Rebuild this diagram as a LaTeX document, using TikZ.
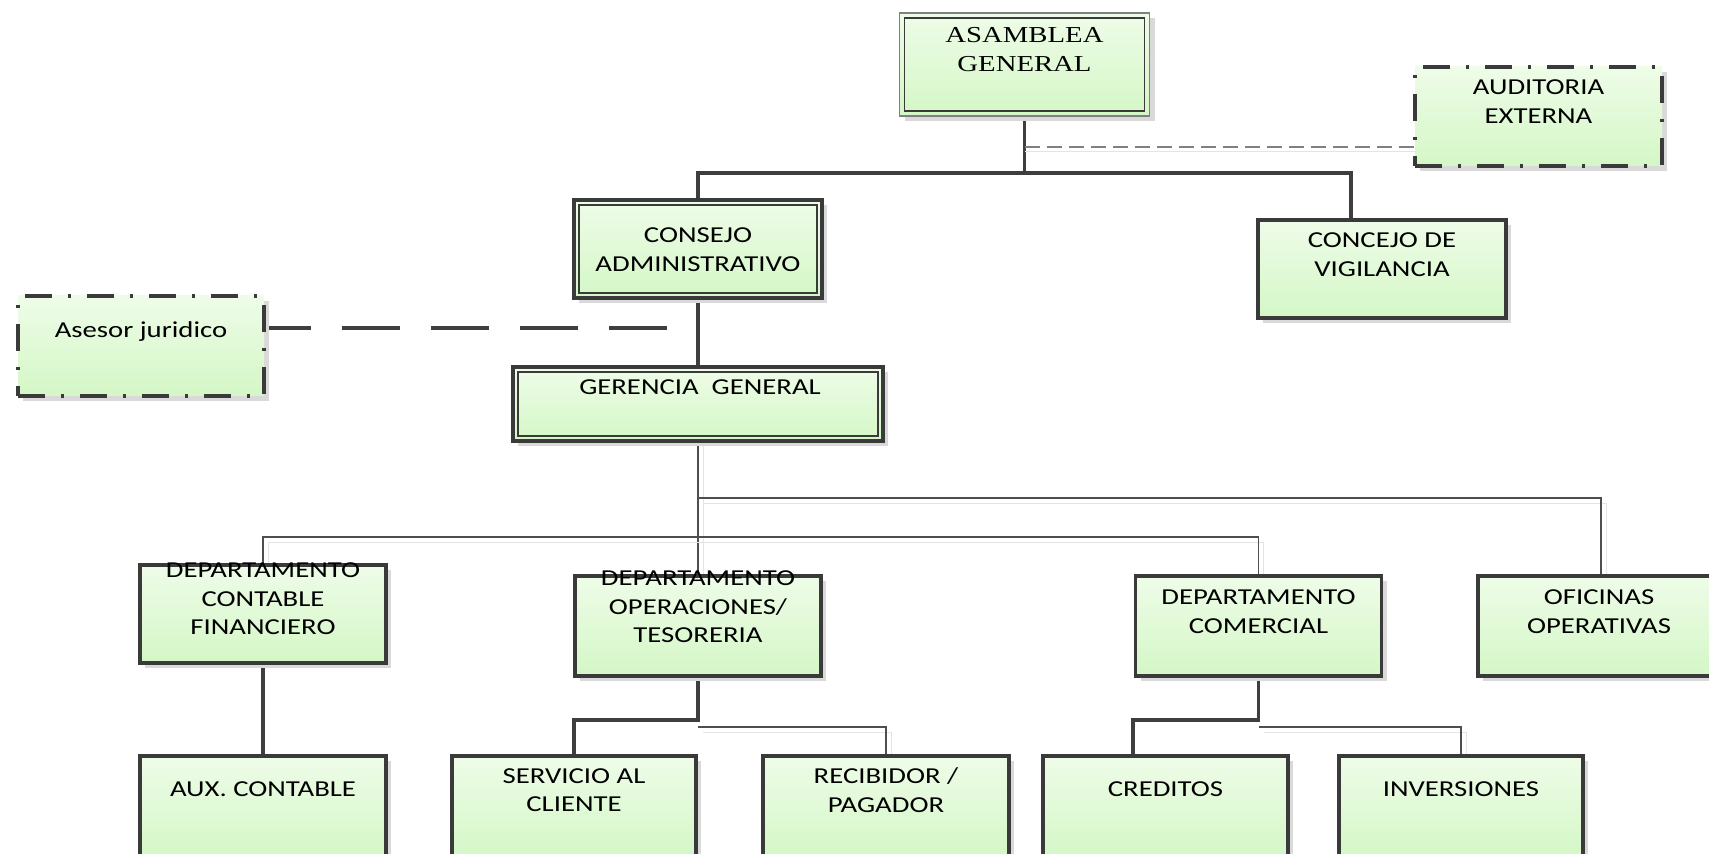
\documentclass[tikz,border=0pt]{standalone}
\usepackage{fontspec}
\setmainfont{Carlito}[FakeStretch=1.26]
\newfontfamily\timesfont{Liberation Serif}[FakeStretch=1.26]
\usetikzlibrary{shadows,backgrounds}

\definecolor{boxtop}{RGB}{238,252,232}
\definecolor{boxbot}{RGB}{212,247,198}
\definecolor{edge}{RGB}{58,58,58}
\definecolor{shadowc}{RGB}{217,217,217}
\definecolor{linkc}{RGB}{62,62,62}
\definecolor{thinc}{RGB}{78,78,78}
\definecolor{lshadow}{RGB}{228,228,228}
\definecolor{dashc}{RGB}{128,128,128}
\definecolor{paleedge}{RGB}{128,128,128}

\tikzset{
  orgbox/.style={rectangle, inner sep=0pt, outer sep=0pt,
    top color=boxtop, bottom color=boxbot, draw=edge, line width=1.8pt,
    drop shadow={shadow xshift=2.5pt, shadow yshift=-2.5pt, fill=shadowc, opacity=1}},
  dashdotbox/.style={orgbox, dash pattern=on 13.5pt off 8pt on 1.5pt off 8pt},
  paleframe/.style={orgbox, draw=paleedge, line width=0.6pt},
  innerthin/.style={draw=edge, line width=0.7pt},
  innerthick/.style={draw=edge, line width=1.2pt},
  lbl/.style={inner sep=0pt, outer sep=0pt, align=center, text=black,
    font=\fontsize{11.4}{14.25}\selectfont},
  seriflbl/.style={lbl, font=\timesfont\fontsize{11.4}{14.5}\selectfont},
  thicklink/.style={draw=linkc, line width=1.75pt},
  thinlink/.style={draw=thinc, line width=0.55pt,
    preaction={draw=lshadow, transform canvas={shift={(2.5pt,-2.5pt)}}}},
  auddash/.style={draw=dashc, line width=0.65pt, dash pattern=on 7.5pt off 3.5pt,
    preaction={draw=lshadow, transform canvas={shift={(0pt,-2pt)}}}},
  asesordash/.style={draw=linkc, line width=1.6pt, dash pattern=on 29pt off 15.5pt},
}

% inset frame drawn inside a box, 2.5pt from its border
\newcommand{\insetframe}[2]{%
  \draw[#2] ([shift={(2.5pt,-2.5pt)}]#1.north west) rectangle ([shift={(-2.5pt,2.5pt)}]#1.south east);}

\begin{document}
\begin{tikzpicture}[x=0.5pt,y=-0.5pt]
\useasboundingbox (0,0) rectangle (1709,854);

% ---- boxes ----
\node[paleframe, minimum width=125pt, minimum height=51.5pt] (asamblea) at (1024.5,64.5) {};
\insetframe{asamblea}{innerthin}
\node[dashdotbox, minimum width=123.5pt, minimum height=49.5pt] (auditoria) at (1538.5,116.5) {};

\node[orgbox, minimum width=124pt, minimum height=49pt] (consejo) at (698,249) {};
\insetframe{consejo}{innerthick}
\node[orgbox, minimum width=124pt, minimum height=49pt] (concejo) at (1382,269) {};

\node[dashdotbox, minimum width=123pt, minimum height=50pt] (asesor) at (141,346) {};

\node[orgbox, minimum width=185pt, minimum height=37pt] (gerencia) at (698,404) {};
\insetframe{gerencia}{innerthick}

\node[orgbox, minimum width=123pt, minimum height=49pt] (contable) at (263,614) {};
\node[orgbox, minimum width=123pt, minimum height=50pt] (oper) at (698,626) {};
\node[orgbox, minimum width=123pt, minimum height=50pt] (comercial) at (1258.5,626) {};
\node[orgbox, minimum width=123pt, minimum height=50pt] (oficinas) at (1601,626) {};

\node[orgbox, minimum width=123pt, minimum height=51pt] (aux) at (263,807) {};
\node[orgbox, minimum width=122pt, minimum height=51pt] (servicio) at (574,807) {};
\node[orgbox, minimum width=123pt, minimum height=51pt] (recibidor) at (886,807) {};
\node[orgbox, minimum width=122.5pt, minimum height=51pt] (creditos) at (1165.5,807) {};
\node[orgbox, minimum width=122pt, minimum height=51pt] (inversiones) at (1461,807) {};

% ---- labels ----
\node[seriflbl] (asamblea-t) at (1024.5,50) {ASAMBLEA\\GENERAL};
\node[lbl] (auditoria-t) at (1538.5,101.7) {AUDITORIA\\EXTERNA};
\node[lbl] (consejo-t) at (698,249.7) {CONSEJO\\ADMINISTRATIVO};
\node[lbl] (concejo-t) at (1382,254.6) {CONCEJO DE\\VIGILANCIA};
\node[lbl, anchor=base] (asesor-t) at (141,338) {Asesor juridico};
\node[lbl, anchor=base] (gerencia-t) at (700,395) {GERENCIA\ \ GENERAL};
\node[lbl] (contable-t) at (263,599) {DEPARTAMENTO\\CONTABLE\\FINANCIERO};
\node[lbl] (oper-t) at (698,607) {DEPARTAMENTO\\OPERACIONES/\\TESORERIA};
\node[lbl] (comercial-t) at (1258.5,611.7) {DEPARTAMENTO\\COMERCIAL};
\node[lbl] (oficinas-t) at (1599,611.7) {OFICINAS\\OPERATIVAS};
\node[lbl, anchor=base] (aux-t) at (263,797) {AUX. CONTABLE};
\node[lbl] (servicio-t) at (574,790) {SERVICIO AL\\CLIENTE};
\node[lbl] (recibidor-t) at (886,790) {RECIBIDOR /\\PAGADOR};
\node[lbl, anchor=base] (creditos-t) at (1165.5,797) {CREDITOS};
\node[lbl, anchor=base] (inversiones-t) at (1461,797) {INVERSIONES};

% ---- connectors ----
\begin{scope}[on background layer]
  \coordinate (bar1) at (0,173);
  \coordinate (audy) at (0,147);
  \coordinate (bar2) at (0,498);
  \coordinate (bar3) at (0,537);
  \coordinate (bar4) at (0,720);
  \coordinate (bar5) at (0,727);
  \coordinate (asesorend) at (667,328);

  \draw[thicklink] (asamblea.south) -- (asamblea.south |- bar1) -| (consejo.north);
  \draw[thicklink] (asamblea.south |- bar1) -| ([xshift=-15.5pt]concejo.north);
  \draw[auddash] (asamblea.south |- audy) -- (auditoria.west |- audy);

  \draw[asesordash] (asesorend) -- (asesorend -| asesor.east);
  \draw[thicklink] (consejo.south) -- (gerencia.north);

  \draw[thinlink] (gerencia.south) -- (oper.north);
  \draw[thinlink] (gerencia.south |- bar2) -| (oficinas.north);
  \draw[thinlink] (contable.north) -- (contable.north |- bar3) -| (comercial.north);

  \draw[thicklink] (contable.south) -- (aux.north);
  \draw[thicklink] (oper.south) -- (oper.south |- bar4) -| (servicio.north);
  \draw[thinlink] (oper.south |- bar5) -| (recibidor.north);
  \draw[thicklink] (comercial.south) -- (comercial.south |- bar4) -| ([xshift=-16.25pt]creditos.north);
  \draw[thinlink] (comercial.south |- bar5) -| (inversiones.north);
\end{scope}
\end{tikzpicture}
\end{document}
